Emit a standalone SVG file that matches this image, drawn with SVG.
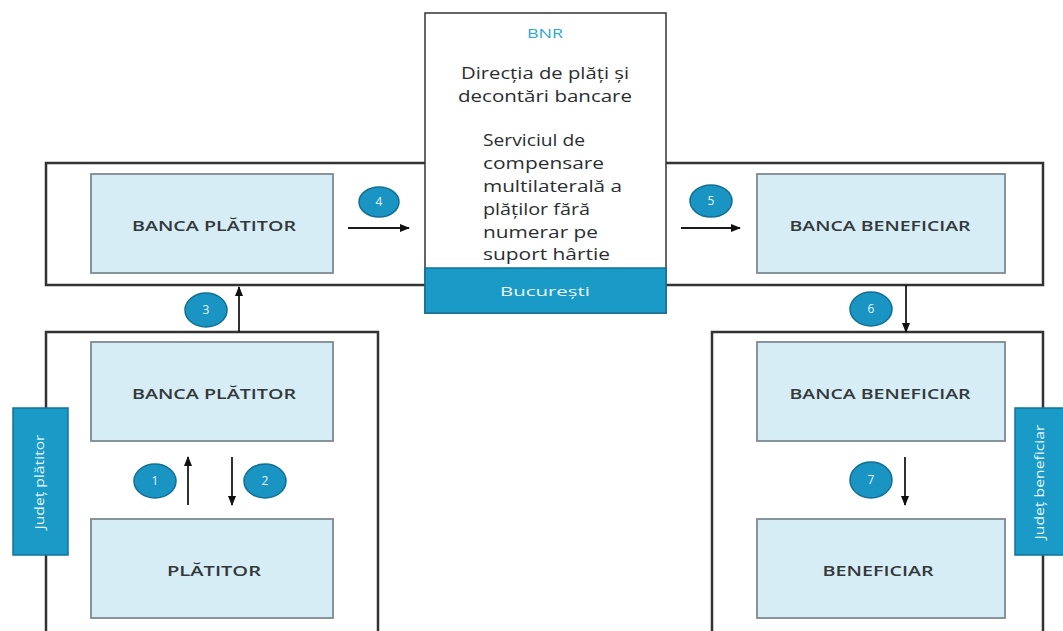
<svg xmlns="http://www.w3.org/2000/svg" width="1063" height="631" viewBox="0 0 1063 631">
<style>
.outer{fill:#fff;stroke:#333;stroke-width:2.5}
.inner{fill:#d7edf5;stroke:#7d8a8f;stroke-width:1.8}
.lbl{font-family:"Open Sans","Liberation Sans",sans-serif;font-size:15px;font-weight:600;fill:#33383b;text-anchor:middle}
.bnr{font-family:"Open Sans","Liberation Sans",sans-serif;font-size:15.5px;fill:#2a2e31}
.num{fill:#1a94c2;stroke:#106f93;stroke-width:1.5}
.numt{font-family:"Open Sans","Liberation Sans",sans-serif;font-size:12px;fill:#e8f6fb;text-anchor:middle}
.side{fill:#1a9ac6;stroke:#12739a;stroke-width:1.5}
.sidet{font-family:"Open Sans","Liberation Sans",sans-serif;font-size:12px;fill:#e6f5fa;text-anchor:middle}
.conn{stroke:#1a1a1a;stroke-width:1.8;fill:none;marker-end:url(#ah)}
</style>
<defs>
<marker id="ah" markerWidth="10" markerHeight="10" refX="9" refY="5" orient="auto" markerUnits="userSpaceOnUse">
<path d="M0,1 L10,5 L0,9 Z" fill="#111"/>
</marker>
</defs>
<rect width="1063" height="631" fill="#fff"/>

<g id="bucuresti-zone"><rect class="outer" x="46" y="163" width="997" height="122"/></g>
<g id="judet-platitor-zone"><rect class="outer" x="46" y="332" width="332" height="302"/></g>
<g id="judet-beneficiar-zone"><rect class="outer" x="712" y="332" width="331" height="302"/></g>

<g id="bnr">
<rect x="425" y="13" width="241" height="300" fill="#fff" stroke="#333" stroke-width="1.5"/>
<rect x="425" y="268" width="241" height="45" fill="#1a9ac6" stroke="#12739a" stroke-width="1.5"/>
<text x="545" y="38" font-family="Open Sans, Liberation Sans, sans-serif" font-size="13" fill="#2aa9d6" text-anchor="middle" textLength="36" lengthAdjust="spacingAndGlyphs">BNR</text>
<text class="bnr" x="545" y="79" text-anchor="middle" textLength="168" lengthAdjust="spacingAndGlyphs">Direcția de plăți și</text>
<text class="bnr" x="545" y="102" text-anchor="middle" textLength="174" lengthAdjust="spacingAndGlyphs">decontări bancare</text>
<text class="bnr" x="483" y="146" textLength="102" lengthAdjust="spacingAndGlyphs">Serviciul de</text>
<text class="bnr" x="483" y="169" textLength="121" lengthAdjust="spacingAndGlyphs">compensare</text>
<text class="bnr" x="483" y="192" textLength="139" lengthAdjust="spacingAndGlyphs">multilaterală a</text>
<text class="bnr" x="483" y="215" textLength="107" lengthAdjust="spacingAndGlyphs">plăților fără</text>
<text class="bnr" x="483" y="238" textLength="115" lengthAdjust="spacingAndGlyphs">numerar pe</text>
<text class="bnr" x="483" y="260" textLength="127" lengthAdjust="spacingAndGlyphs">suport hârtie</text>
<text x="545" y="296" font-family="Open Sans, Liberation Sans, sans-serif" font-size="13" fill="#e8f6fb" text-anchor="middle" textLength="90" lengthAdjust="spacingAndGlyphs">București</text>
</g>

<g id="banca-platitor-buc">
<rect class="inner" x="91" y="174" width="242" height="99"/>
<text class="lbl" x="214" y="231" textLength="164" lengthAdjust="spacingAndGlyphs">BANCA PLĂTITOR</text>
</g>
<g id="banca-beneficiar-buc">
<rect class="inner" x="757" y="174" width="248" height="99"/>
<text class="lbl" x="880" y="231" textLength="181" lengthAdjust="spacingAndGlyphs">BANCA BENEFICIAR</text>
</g>
<g id="banca-platitor-judet">
<rect class="inner" x="91" y="342" width="242" height="99"/>
<text class="lbl" x="214" y="399" textLength="164" lengthAdjust="spacingAndGlyphs">BANCA PLĂTITOR</text>
</g>
<g id="platitor">
<rect class="inner" x="91" y="519" width="242" height="99"/>
<text class="lbl" x="214" y="576" textLength="94" lengthAdjust="spacingAndGlyphs">PLĂTITOR</text>
</g>
<g id="banca-beneficiar-judet">
<rect class="inner" x="757" y="342" width="248" height="99"/>
<text class="lbl" x="880" y="399" textLength="181" lengthAdjust="spacingAndGlyphs">BANCA BENEFICIAR</text>
</g>
<g id="beneficiar">
<rect class="inner" x="757" y="519" width="248" height="99"/>
<text class="lbl" x="878" y="576" textLength="111" lengthAdjust="spacingAndGlyphs">BENEFICIAR</text>
</g>

<g id="label-judet-platitor">
<rect class="side" x="13" y="408" width="55" height="147"/>
<text class="sidet" transform="translate(44,482) rotate(-90)" textLength="95" lengthAdjust="spacingAndGlyphs">Județ plătitor</text>
</g>
<g id="label-judet-beneficiar">
<rect class="side" x="1015" y="408" width="50" height="147"/>
<text class="sidet" transform="translate(1044,482) rotate(-90)" textLength="115" lengthAdjust="spacingAndGlyphs">Județ beneficiar</text>
</g>

<g id="connectors">
<line class="conn" x1="188" y1="505" x2="188" y2="457"/>
<line class="conn" x1="232" y1="457" x2="232" y2="505"/>
<line class="conn" x1="239" y1="332" x2="239" y2="287"/>
<line class="conn" x1="348" y1="228" x2="409" y2="228"/>
<line class="conn" x1="681" y1="228" x2="740" y2="228"/>
<line class="conn" x1="906" y1="285" x2="906" y2="332"/>
<line class="conn" x1="905" y1="457" x2="905" y2="505"/>
</g>

<g id="step-numbers">
<ellipse class="num" cx="155" cy="481" rx="21" ry="17"/><text class="numt" x="155" y="485">1</text>
<ellipse class="num" cx="265" cy="481" rx="21" ry="17"/><text class="numt" x="265" y="485">2</text>
<ellipse class="num" cx="206" cy="310" rx="21" ry="17"/><text class="numt" x="206" y="314">3</text>
<ellipse class="num" cx="379" cy="202" rx="20" ry="15"/><text class="numt" x="379" y="206">4</text>
<ellipse class="num" cx="711" cy="201" rx="21" ry="16"/><text class="numt" x="711" y="205">5</text>
<ellipse class="num" cx="871" cy="309" rx="21" ry="17"/><text class="numt" x="871" y="313">6</text>
<ellipse class="num" cx="871" cy="480" rx="21" ry="18"/><text class="numt" x="871" y="484">7</text>
</g>
</svg>
